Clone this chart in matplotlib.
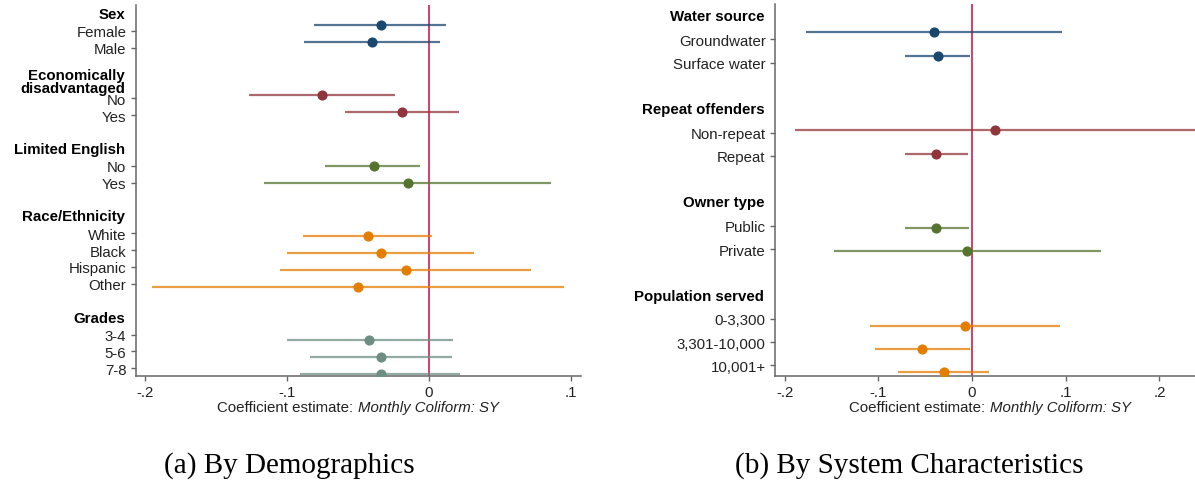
import numpy as np
import matplotlib.pyplot as plt
from matplotlib.offsetbox import TextArea, HPacker, AnnotationBbox

plt.rcParams['font.family'] = ['Liberation Sans', 'DejaVu Sans']

colors = ['#1a476f', '#90353b', '#55752f', '#e37e00', '#6e8e84']

# panel (a): demographics
demo_groups = ['Sex', 'Economically\ndisadvantaged', 'Limited English', 'Race/Ethnicity', 'Grades']
demo_labels = [['Female', 'Male'], ['No', 'Yes'], ['No', 'Yes'],
               ['White', 'Black', 'Hispanic', 'Other'], ['3-4', '5-6', '7-8']]
demo_est = [[-0.034, -0.040], [-0.075, -0.019], [-0.039, -0.015],
            [-0.043, -0.034, -0.016, -0.050], [-0.042, -0.034, -0.034]]
demo_lo = [[-0.081, -0.088], [-0.127, -0.059], [-0.073, -0.116],
           [-0.089, -0.100, -0.105, -0.195], [-0.100, -0.084, -0.091]]
demo_hi = [[0.012, 0.008], [-0.024, 0.021], [-0.006, 0.086],
           [0.002, 0.032, 0.072, 0.095], [0.017, 0.016, 0.022]]

# panel (b): system characteristics
sys_groups = ['Water source', 'Repeat offenders', 'Owner type', 'Population served']
sys_labels = [['Groundwater', 'Surface water'], ['Non-repeat', 'Repeat'],
              ['Public', 'Private'], ['0-3,300', '3,301-10,000', '10,001+']]
sys_est = [[-0.041, -0.036], [0.025, -0.038], [-0.038, -0.005], [-0.008, -0.053, -0.030]]
sys_lo = [[-0.177, -0.071], [-0.189, -0.072], [-0.072, -0.147], [-0.109, -0.104, -0.079]]
sys_hi = [[0.096, -0.002], [0.260, -0.004], [-0.003, 0.138], [0.094, -0.002, 0.018]]

fig = plt.figure(figsize=(11.95, 4.85), dpi=100)
axL = fig.add_axes([0.1136, 0.2233, 0.3722, 0.7643])
axR = fig.add_axes([0.6486, 0.2233, 0.3514, 0.7663])


def coefplot(ax, groups, labels, est, lo, hi, line_sp):
    n = len(groups)
    pos = 0
    ticks, ticklabels = [], []
    for g in range(n):
        head_pos = pos
        off = (g - (n - 1) / 2) / (n + 1)
        ys = []
        for j in range(len(labels[g])):
            pos += 1
            ys.append(pos)
        ys = np.array(ys)
        ax.hlines(ys + off, lo[g], hi[g], color=colors[g], lw=1.6, alpha=0.75, zorder=2)
        ax.plot(est[g], ys + off, 'o', color=colors[g], ms=6.3, zorder=3)
        ticks += list(ys)
        ticklabels += labels[g]
        ax.annotate(groups[g], xy=(0, head_pos), xycoords=('axes fraction', 'data'),
                    xytext=(-7.8, 0), textcoords='offset points', ha='right', va='center',
                    multialignment='right', fontsize=10.8, fontweight='bold',
                    linespacing=line_sp, color='black')
        pos += 2
    ax.set_yticks(ticks)
    ax.set_yticklabels(ticklabels)
    ax.set_ylim(pos - 2 + 0.44, -0.52)
    ax.axvline(0, color='#d42f5c', lw=1.3, zorder=1)
    for s in ['top', 'right']:
        ax.spines[s].set_visible(False)
    for s in ['left', 'bottom']:
        ax.spines[s].set_color('#666666')
        ax.spines[s].set_linewidth(1.1)
    ax.tick_params(axis='y', length=3.8, width=1, color='#666666', pad=3, labelsize=10.8, labelcolor='#222222')
    ax.tick_params(axis='x', length=3.8, width=1, color='#666666', pad=3, labelsize=10.8, labelcolor='#222222')
    ax.set_xticks([-0.2, -0.1, 0, 0.1, 0.2])
    ax.set_xticklabels(['-.2', '-.1', '0', '.1', '.2'])


coefplot(axL, demo_groups, demo_labels, demo_est, demo_lo, demo_hi, 0.95)
axL.set_xlim(-0.2067, 0.107)
coefplot(axR, sys_groups, sys_labels, sys_est, sys_lo, sys_hi, 1.0)
axR.set_xlim(-0.2102, 0.238)


def xlab(ax, xfrac):
    box = HPacker(children=[TextArea('Coefficient estimate:', textprops=dict(fontsize=10.8, color='#222222')),
                            TextArea('Monthly Coliform: SY', textprops=dict(fontsize=10.8, color='#222222', style='italic'))],
                  pad=0, sep=3, align='baseline')
    ab = AnnotationBbox(box, (xfrac, -0.085), xycoords='axes fraction', box_alignment=(0.5, 0.5),
                        frameon=False, pad=0)
    ax.add_artist(ab)


xlab(axL, 0.5)
xlab(axR, 0.512)

fig.text(289 / 1195, 1 - 466 / 485, '(a) By Demographics', family='Liberation Serif', fontsize=21,
         ha='center', va='center')
fig.text(909 / 1195, 1 - 466 / 485, '(b) By System Characteristics', family='Liberation Serif', fontsize=21,
         ha='center', va='center')

fig.savefig('out.png', dpi=100)
